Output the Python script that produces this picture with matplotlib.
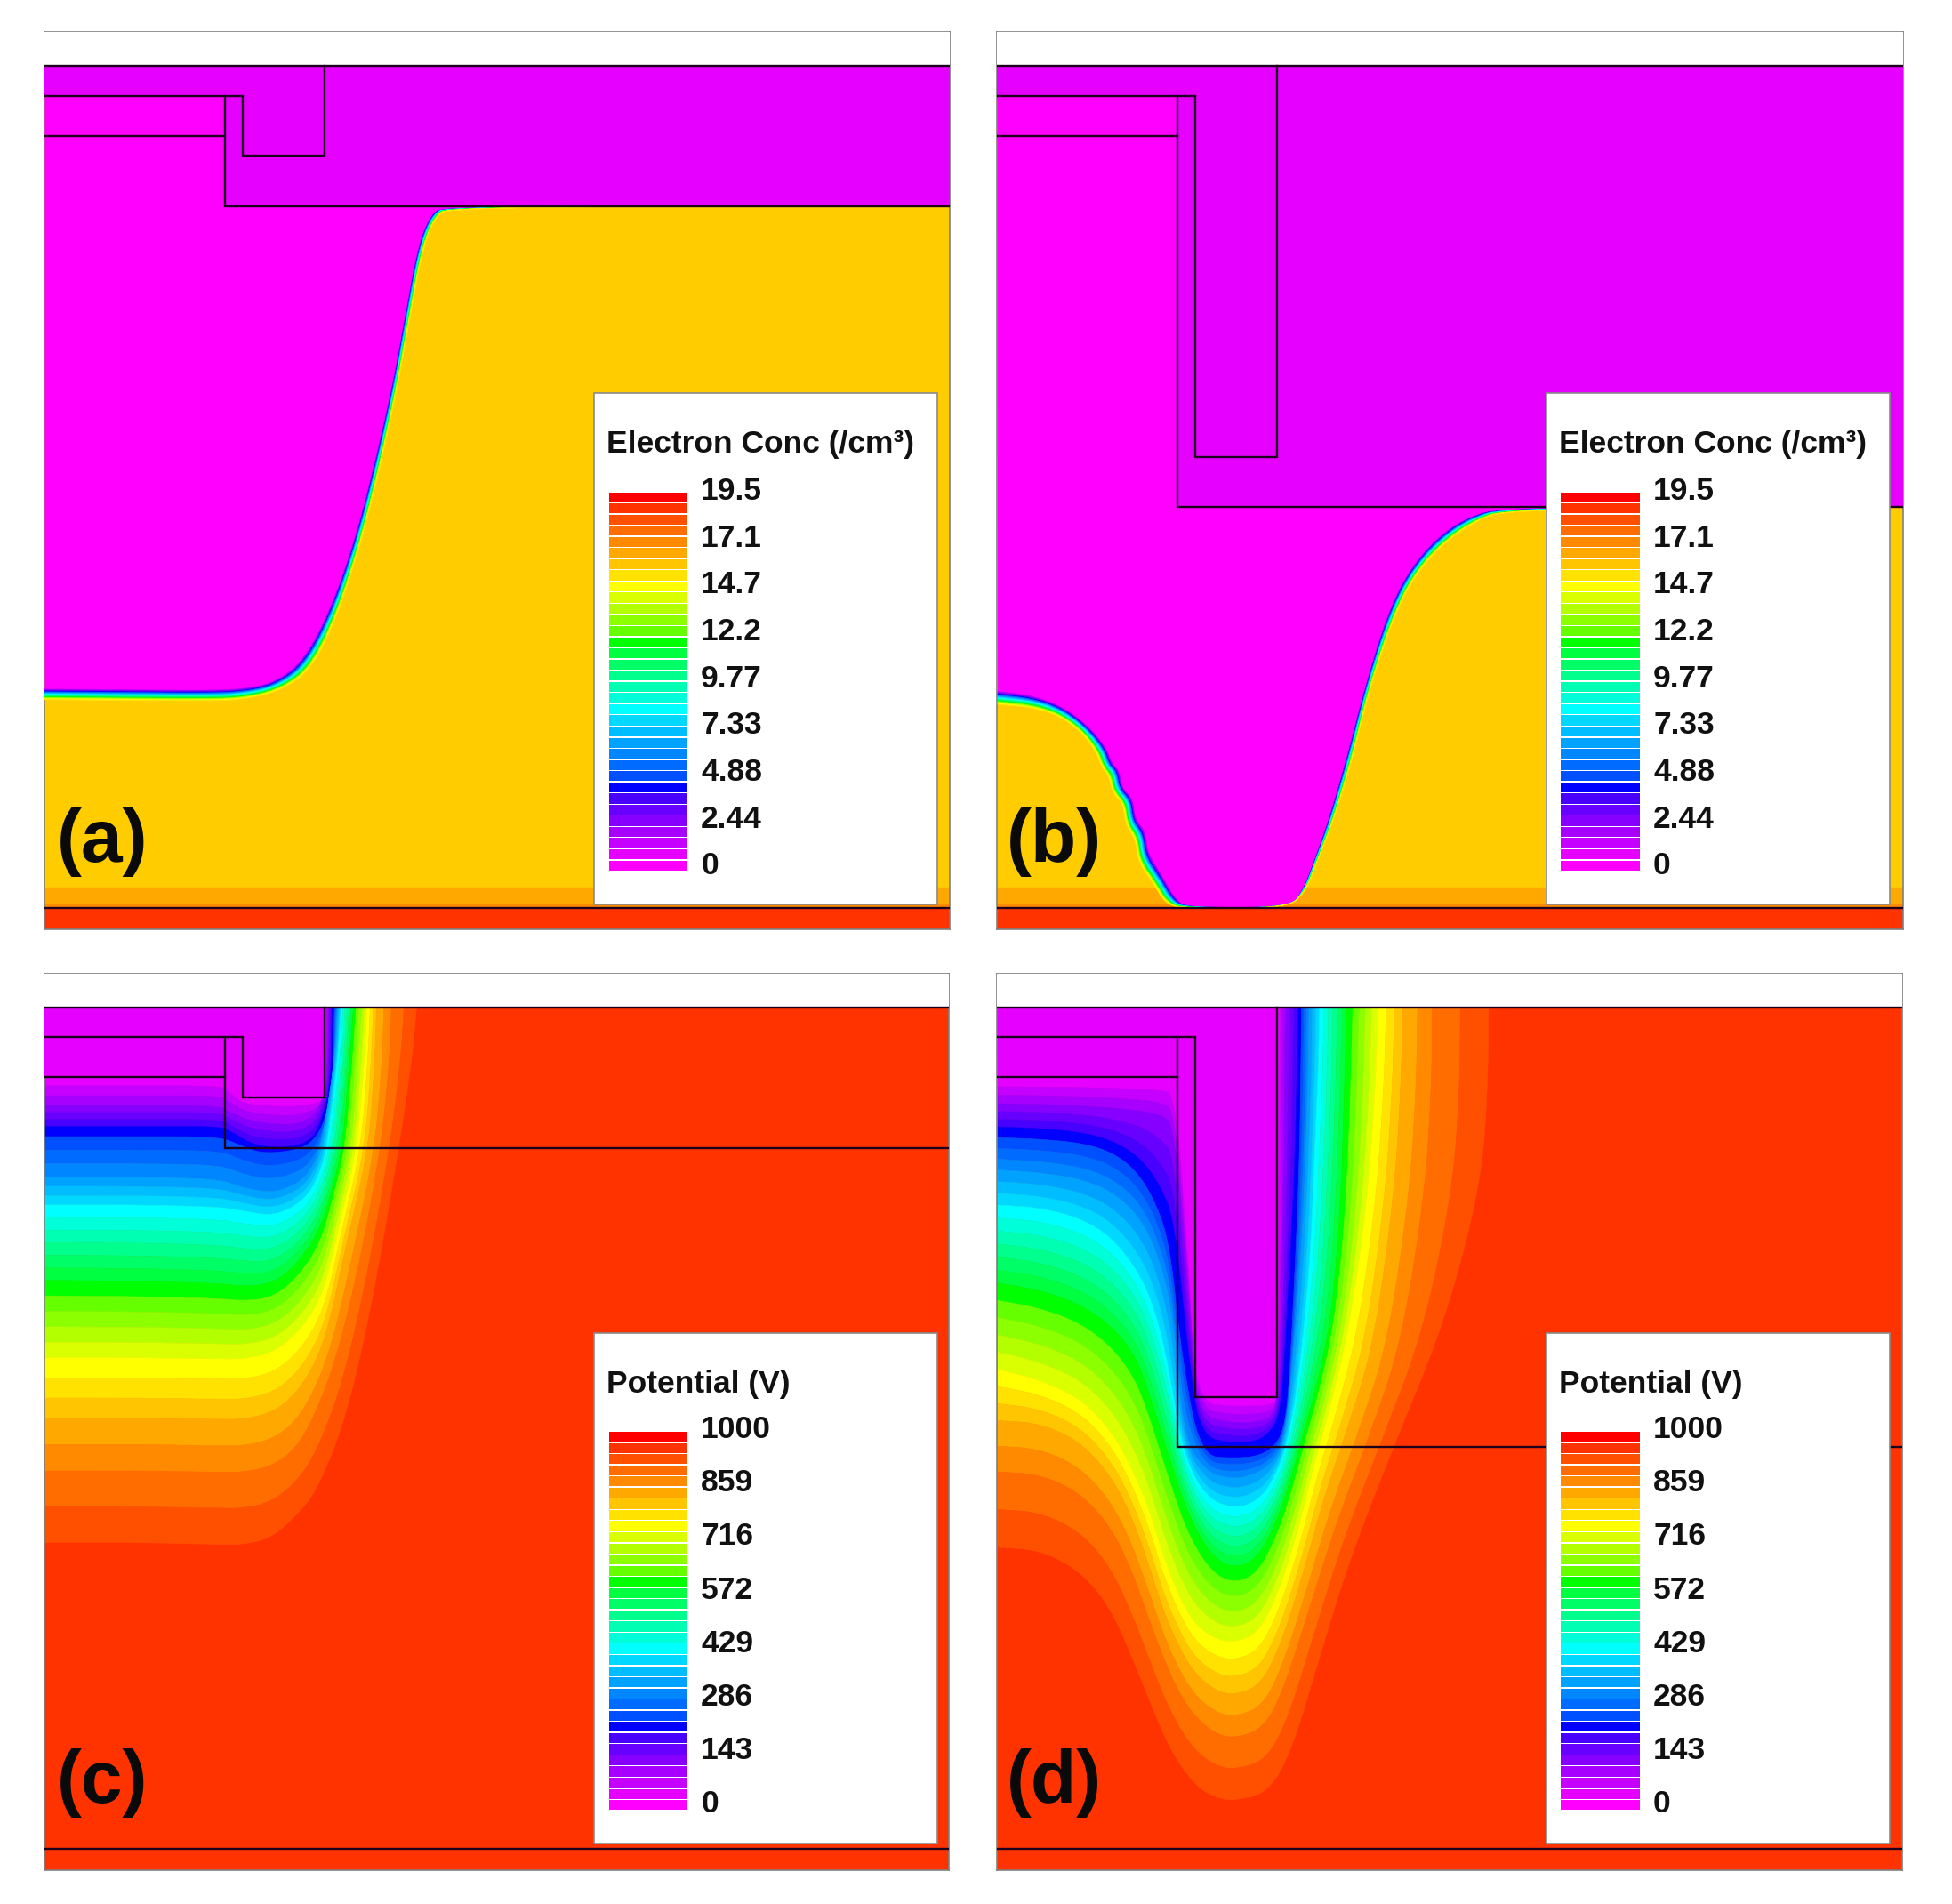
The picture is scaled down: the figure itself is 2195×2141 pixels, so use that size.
import numpy as np
import matplotlib
matplotlib.use('Agg')
import matplotlib.pyplot as plt
from matplotlib.colors import LinearSegmentedColormap

plt.rcParams['font.family'] = ['Liberation Sans', 'DejaVu Sans']

# everything below is in the coords of the 1568x1529 view of the picture
W, H = 1568.0, 1529.0
S = 2195.0 / 1568.0

# legend colours, 34 bands
band_pos = [0, 1, 6, 7, 8, 13, 14, 19, 20, 21, 25, 32, 33]
band_cols = ['#ff00ff', '#e600ff', '#4800ff', '#0000ff', '#0050ff', '#00d8ff', '#00ffff',
             '#00ff40', '#00ff00', '#66ff00', '#ffff00', '#ff3300', '#ff0000']
elec_labels = ['19.5', '17.1', '14.7', '12.2', '9.77', '7.33', '4.88', '2.44', '0']
pot_labels = ['1000', '859', '716', '572', '429', '286', '143', '0']

# (a) depletion edge, magenta side and amber side
a_edge_x0 = [36, 100, 165, 195, 220, 243, 265, 285, 300, 315, 325, 335, 345, 357, 763]
a_edge_y0 = [553, 553.5, 554, 553, 548, 531, 490, 433, 375, 310, 255, 200, 173, 165, 165]
a_edge_x1 = [36, 100, 165, 195, 225, 250, 271, 290, 305, 319, 329, 339, 349, 362, 763]
a_edge_y1 = [562, 562.5, 563, 562, 555, 538, 495, 436, 377, 312, 257, 202, 175, 166, 166]

b_edge_zx0 = [5, 100, 180, 250, 300, 315, 335, 342, 372, 378, 405, 412, 450, 490, 520, 795, 830, 860, 900, 950, 990, 1030, 1065, 1110, 1180, 1270, 1380, 2470]
b_edge_zy0 = [772, 785, 820, 880, 950, 1000, 1020, 1075, 1110, 1175, 1210, 1280, 1350, 1430, 1450, 1450, 1400, 1310, 1180, 980, 800, 640, 520, 410, 305, 228, 195, 190]
b_edge_zx1 = [5, 100, 170, 230, 270, 285, 305, 315, 345, 350, 378, 385, 425, 462, 525, 790, 840, 870, 915, 965, 1005, 1045, 1085, 1130, 1200, 1290, 1390, 2470]
b_edge_zy1 = [815, 825, 850, 900, 960, 1010, 1040, 1090, 1130, 1190, 1240, 1310, 1375, 1445, 1454, 1454, 1400, 1310, 1180, 990, 800, 650, 525, 420, 322, 245, 200, 195]

# amber darkening just above the substrate
low_y = [712, 714, 725, 729]
low_band = [26.9, 27.6, 28.4, 29]

c_iso = [0.5, 3.5, 6.5, 7.5, 10.5, 13.5, 19.5, 24.5, 27.5, 29.5, 31.5]
c_zx = [
    [25, 350, 620, 645, 690, 860, 920, 965, 970, 972, 973, 973],
    [25, 350, 620, 650, 730, 860, 920, 950, 970, 980, 985, 988],
    [25, 350, 620, 660, 740, 860, 920, 950, 975, 990, 998, 1000],
    [25, 350, 620, 690, 760, 860, 920, 960, 985, 1000, 1005, 1008],
    [25, 350, 620, 690, 790, 860, 910, 940, 960, 980, 1010, 1018],
    [25, 350, 620, 700, 790, 860, 920, 955, 975, 990, 1020, 1030],
    [25, 350, 620, 700, 790, 860, 920, 965, 1000, 1035, 1060, 1072],
    [25, 350, 620, 700, 790, 860, 930, 980, 1025, 1085, 1110, 1118],
    [25, 350, 620, 700, 790, 860, 930, 985, 1045, 1125, 1145, 1150],
    [25, 350, 620, 700, 790, 870, 930, 1010, 1090, 1165, 1195, 1200],
    [25, 350, 620, 700, 790, 870, 950, 1050, 1140, 1225, 1270, 1285],
]
c_zy = [
    [245, 245, 245, 255, 298, 300, 300, 300, 298, 270, 200, 75],
    [320, 320, 320, 335, 360, 370, 355, 335, 300, 270, 200, 75],
    [372, 372, 372, 385, 422, 425, 410, 385, 330, 280, 200, 75],
    [398, 398, 398, 420, 440, 435, 420, 385, 330, 280, 200, 75],
    [500, 500, 505, 525, 540, 525, 500, 465, 425, 350, 200, 75],
    [570, 570, 575, 585, 597, 580, 545, 495, 450, 380, 200, 75],
    [760, 762, 768, 775, 770, 735, 680, 620, 530, 428, 200, 75],
    [955, 955, 958, 958, 945, 910, 850, 770, 620, 428, 200, 75],
    [1107, 1107, 1110, 1110, 1095, 1060, 990, 890, 680, 428, 200, 75],
    [1240, 1240, 1243, 1243, 1230, 1190, 1120, 970, 730, 428, 200, 75],
    [1420, 1420, 1425, 1425, 1410, 1360, 1290, 1100, 800, 428, 200, 75],
]

d_iso = [0.5, 3.5, 6.5, 7.5, 10.5, 13.5, 19.5, 24.5, 27.5, 29.5, 31.5]
d_zx = [
    [5, 130, 250, 340, 420, 480, 528, 565, 585, 700, 770, 815, 826, 827, 827, 827, 827, 827, 827],
    [5, 130, 250, 340, 420, 480, 525, 570, 590, 700, 770, 805, 825, 832, 838, 842, 846, 848, 850],
    [5, 130, 250, 340, 420, 480, 525, 565, 600, 700, 770, 815, 835, 845, 855, 870, 880, 885, 888],
    [5, 130, 250, 340, 410, 465, 510, 545, 600, 700, 780, 830, 850, 860, 870, 885, 893, 896, 898],
    [5, 130, 250, 340, 420, 475, 520, 550, 615, 700, 780, 830, 850, 865, 880, 900, 912, 918, 920],
    [5, 130, 250, 340, 420, 470, 510, 545, 610, 700, 780, 830, 855, 880, 905, 925, 938, 948, 950],
    [5, 130, 250, 340, 410, 450, 500, 560, 630, 700, 770, 830, 870, 905, 945, 985, 1010, 1022, 1030],
    [5, 130, 250, 340, 400, 450, 500, 570, 640, 700, 770, 830, 890, 935, 985, 1040, 1090, 1115, 1122],
    [5, 130, 250, 340, 400, 450, 500, 570, 640, 700, 780, 840, 900, 965, 1030, 1110, 1170, 1190, 1195],
    [5, 130, 250, 340, 400, 450, 510, 570, 640, 700, 790, 850, 920, 1000, 1090, 1190, 1260, 1280, 1282],
    [5, 130, 250, 340, 420, 470, 520, 590, 650, 700, 800, 870, 950, 1040, 1170, 1320, 1425, 1445, 1447],
]
d_zy = [
    [185, 185, 185, 185, 185, 185, 185, 500, 775, 778, 778, 778, 775, 720, 620, 450, 300, 150, 55],
    [232, 233, 236, 240, 245, 252, 270, 620, 810, 825, 822, 815, 790, 720, 620, 450, 300, 150, 55],
    [275, 278, 285, 300, 330, 380, 450, 700, 850, 862, 858, 835, 800, 730, 620, 450, 300, 150, 55],
    [295, 298, 305, 322, 355, 410, 490, 700, 885, 890, 885, 860, 820, 760, 650, 450, 300, 150, 55],
    [355, 360, 372, 395, 440, 510, 620, 850, 915, 930, 915, 885, 840, 760, 650, 480, 300, 150, 55],
    [420, 425, 445, 480, 545, 620, 730, 870, 960, 985, 965, 910, 860, 780, 650, 500, 300, 150, 55],
    [565, 578, 605, 645, 700, 770, 870, 990, 1070, 1095, 1075, 1000, 920, 840, 750, 630, 450, 250, 55],
    [725, 745, 780, 840, 910, 985, 1090, 1190, 1225, 1232, 1215, 1140, 1020, 900, 790, 640, 420, 200, 55],
    [820, 825, 860, 925, 1000, 1090, 1190, 1280, 1320, 1330, 1310, 1230, 1110, 960, 840, 680, 400, 200, 55],
    [915, 920, 955, 1020, 1100, 1190, 1290, 1360, 1400, 1410, 1390, 1310, 1170, 1010, 860, 680, 400, 200, 55],
    [1055, 1060, 1100, 1170, 1290, 1370, 1440, 1500, 1520, 1525, 1510, 1430, 1260, 1075, 865, 634, 380, 200, 55],
]

# device outlines
a_lines = [([36, 195, 195, 261, 261], [77, 77, 125, 125, 53]),
           ([36, 181], [109, 109]),
           ([181, 181, 763], [77, 166, 166])]
b_lines = [([801, 960, 960, 1026, 1026], [77, 77, 367, 367, 53]),
           ([801, 946], [109, 109]),
           ([946, 946, 1529], [77, 407, 407])]
c_lines = [([36, 195, 195, 261, 261], [833, 833, 881, 881, 809]),
           ([36, 181], [865, 865]),
           ([181, 181, 762], [833, 922, 922])]
d_lines = [([801, 960, 960, 1026, 1026], [833, 833, 1122, 1122, 809]),
           ([801, 946], [865, 865]),
           ([946, 946, 1528], [833, 1162, 1162])]

RED = '#ff3300'
AMBER = '#ffcc00'
OXIDE = '#e600ff'
LINE = '#1c001c'

cmap = LinearSegmentedColormap.from_list('tony', [(p / 33.0, c) for p, c in zip(band_pos, band_cols)], N=34)
band_edges = np.arange(-0.5, 34.5, 1.0)


def chaikin(p, n=3):
    # corner cutting so the read points make a smooth line
    p = np.asarray(p, dtype=float)
    for i in range(n):
        q = 0.75 * p[:-1] + 0.25 * p[1:]
        r = 0.25 * p[:-1] + 0.75 * p[1:]
        mid = np.empty(2 * len(q))
        mid[0::2] = q
        mid[1::2] = r
        p = np.concatenate([p[:1], mid, p[-1:]])
    return p


def bands(ax, xs, ys, iso, zorder=2):
    X = np.array([chaikin(r) for r in xs])
    Y = np.array([chaikin(r) for r in ys])
    Z = np.array([[v] * X.shape[1] for v in iso])
    cs = ax.contourf(X, Y, Z, levels=band_edges, cmap=cmap, vmin=-0.5, vmax=33.5, zorder=zorder)
    cs.set_edgecolor('face')
    cs.set_linewidth(0.4)
    cs.set_antialiased(True)
    return X, Y


def make_axes(x0, x1, y0, y1, bg):
    ax = fig.add_axes([x0 / W, 1 - y1 / H, (x1 - x0) / W, (y1 - y0) / H])
    ax.set_xlim(x0, x1)
    ax.set_ylim(y1, y0)
    ax.set_facecolor(bg)
    ax.set_xticks([])
    ax.set_yticks([])
    for s in ax.spines.values():
        s.set_color('#808080')
        s.set_linewidth(1.2)
    return ax


def finish(ax, lines, x0, x1, top, tag, lx, title, labels, ltop, tick_off):
    ax.axhspan(top, top + 27, color='white', lw=0, zorder=5)
    ax.plot([x0, x1], [top + 27, top + 27], color=LINE, lw=1.7, zorder=6)
    ax.plot([x0, x1], [top + 703, top + 703], color=LINE, lw=1.7, zorder=6)
    for lx_, ly_ in lines:
        ax.plot(lx_, ly_, color=LINE, lw=1.7, solid_joinstyle='miter', zorder=6)
    ax.text(x0 + 46, top + 650, tag, fontsize=60.5, fontweight='bold', va='center', ha='center', color='#0a0a0a', zorder=7)
    # legend
    ax.fill([lx, lx + 276, lx + 276, lx], [ltop, ltop, ltop + 410, ltop + 410],
            facecolor='white', edgecolor='#8a8a8a', lw=1.2, zorder=8)
    ax.text(lx + 10, ltop + 41, title, fontsize=25.5, fontweight='bold', va='center', color='#111111', zorder=9)
    sw_y = ltop + 379 - np.arange(34) * 8.96
    ax.barh(sw_y, [63] * 34, left=lx + 12, height=8.0, color=[cmap(i) for i in range(34)], lw=0, zorder=9)
    for i, t in enumerate(labels):
        yy = ltop + 378 + tick_off - 301 * (len(labels) - 1 - i) / (len(labels) - 1.0)
        ax.text(lx + 86, yy, t, fontsize=25.5, fontweight='bold', va='center', color='#111111', zorder=9)


def electron_panel(x0, x1, top, ex0, ey0, ex1, ey1, lines, tag, lx, ox_right_x, ox_y):
    ax = make_axes(x0, x1, top, top + 720, AMBER)
    # bottom strip of the amber region
    xg = [x0, x1]
    ax.contourf(xg, low_y, [[v, v] for v in low_band], levels=band_edges, cmap=cmap,
                vmin=-0.5, vmax=33.5, zorder=1)
    ax.axhspan(top + 703, top + 720, color=RED, lw=0, zorder=1)
    X, Y = bands(ax, [ex0, ex1], [ey0, ey1], [0.5, 26.5], zorder=3)
    ax.fill(list(X[0]) + [x1, x0], list(Y[0]) + [top, top], color='#ff00ff', lw=0, zorder=3)
    # oxide sits on top of the magenta
    ax.fill([x0, x1, x1, ox_right_x, ox_right_x, x0],
            [top + 27, top + 27, ox_y, ox_y, top + 51, top + 51], color=OXIDE, lw=0, zorder=4)
    finish(ax, lines, x0, x1, top, tag, lx, 'Electron Conc (/cm³)', elec_labels, top + 290, 1.5)


def potential_panel(x0, x1, top, zx, zy, ox, oy, sx, sy, iso, lines, tag, lx):
    ax = make_axes(x0, x1, top, top + 720, RED)
    xs = [(ox + np.array(r) / sx) / S for r in zx]
    ys = [(oy + np.array(r) / sy) / S for r in zy]
    X, Y = bands(ax, xs, ys, iso)
    ax.fill(list(X[0]) + [x0], list(Y[0]) + [top], color=OXIDE, lw=0, zorder=3)
    finish(ax, lines, x0, x1, top, tag, lx, 'Potential (V)', pot_labels, top + 288.5, 0.5)


fig = plt.figure(figsize=(21.95, 21.41), dpi=100, facecolor='white')

electron_panel(36, 763, 26, a_edge_x0, a_edge_y0, a_edge_x1, a_edge_y1, a_lines, '(a)', 477, 181, 166)
b_x0 = (1120 + np.array(b_edge_zx0) / 2.41) / S
b_y0 = (500 + np.array(b_edge_zy0) / 2.79) / S
b_x1 = (1120 + np.array(b_edge_zx1) / 2.41) / S
b_y1 = (500 + np.array(b_edge_zy1) / 2.79) / S
electron_panel(801, 1529, 26, b_x0, b_y0, b_x1, b_y1, b_lines, '(b)', 1242, 946, 407)
potential_panel(36, 762, 782, c_zx, c_zy, 40, 1100, 3.0, 2.24, c_iso, c_lines, '(c)', 477)
potential_panel(801, 1528, 782, d_zx, d_zy, 1120, 1100, 2.613, 1.65, d_iso, d_lines, '(d)', 1242)

fig.savefig('out.png', dpi=100, facecolor='white')
